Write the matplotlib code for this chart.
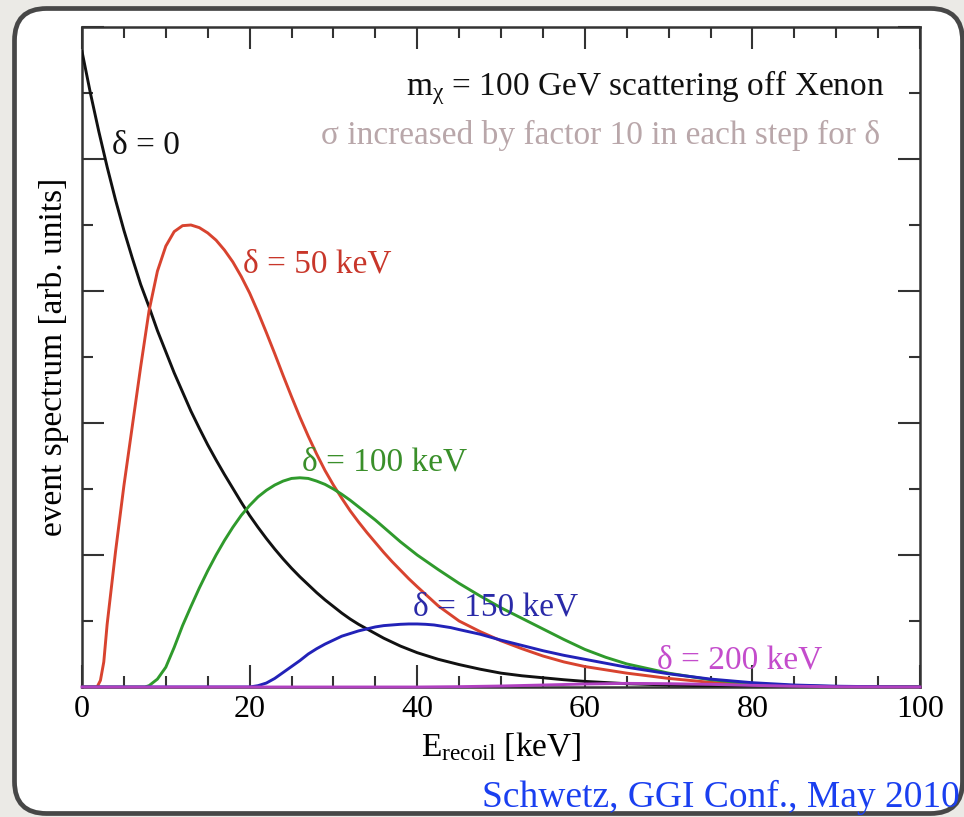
import matplotlib
matplotlib.use("Agg")
import matplotlib.pyplot as plt
from matplotlib.patches import FancyBboxPatch
from matplotlib.ticker import MultipleLocator

plt.rcParams['font.family'] = ['Liberation Serif', 'DejaVu Serif']
plt.rcParams['mathtext.fontset'] = 'custom'
plt.rcParams['mathtext.rm'] = 'Liberation Serif'
plt.rcParams['mathtext.it'] = 'Liberation Serif:italic'

# ---- data ----
x_black = [0, 1, 2, 3, 4, 5, 6, 7, 8, 9, 10, 11, 12, 13, 14, 15, 16, 17, 18, 19, 20,
           21, 22, 23, 24, 25, 26, 27, 28, 29, 30, 31, 32, 33, 34, 35, 36, 37, 38, 39, 40,
           42.5, 45, 47.5, 50, 52.5, 55, 57.5, 60, 65, 70, 75, 80, 85, 90, 100]
y_black = [9.63, 9.00, 8.42, 7.88, 7.38, 6.92, 6.50, 6.10, 5.76, 5.40, 5.08, 4.76, 4.47,
           4.18, 3.92, 3.67, 3.44, 3.22, 3.01, 2.80, 2.60, 2.42, 2.25, 2.09, 1.94, 1.80,
           1.67, 1.55, 1.43, 1.32, 1.22, 1.12, 1.03, 0.95, 0.88, 0.81, 0.74, 0.68, 0.62,
           0.57, 0.52, 0.42, 0.34, 0.27, 0.21, 0.17, 0.14, 0.11, 0.085, 0.05, 0.03, 0.017,
           0.009, 0.004, 0.002, 0.0]

x_red = [0, 1.8, 2.2, 2.6, 3.0, 3.5, 4, 5, 6, 7, 8, 9, 10, 11, 12, 13, 14, 15, 16, 17,
         18, 19, 20, 21, 22, 23, 24, 25, 26, 27, 28, 29, 30, 31, 32, 33, 34, 35, 36, 37,
         38, 39, 40, 42.5, 45, 47.5, 50, 52.5, 55, 57.5, 60, 65, 70, 75, 80, 85, 90, 100]
y_red = [0, 0, 0.1, 0.38, 0.95, 1.5, 2.05, 3.05, 3.95, 4.85, 5.7, 6.3, 6.68, 6.9, 6.99,
         7.0, 6.96, 6.88, 6.77, 6.62, 6.44, 6.22, 5.97, 5.68, 5.37, 5.05, 4.72, 4.40,
         4.09, 3.80, 3.53, 3.28, 3.06, 2.86, 2.67, 2.50, 2.34, 2.19, 2.04, 1.90, 1.77,
         1.64, 1.52, 1.23, 1.0, 0.84, 0.70, 0.58, 0.47, 0.38, 0.31, 0.21, 0.13, 0.07,
         0.035, 0.014, 0.005, 0]

x_green = [0, 7.5, 8, 9, 10, 11, 12, 13, 14, 15, 16, 17, 18, 19, 20, 21, 22, 23, 24, 25,
           26, 27, 28, 29, 30, 31, 32, 33, 34, 35, 36, 37, 38, 39, 40, 42.5, 45, 47.5, 50,
           52.5, 55, 57.5, 60, 62.5, 65, 70, 75, 80, 85, 90, 100]
y_green = [0, 0, 0.02, 0.12, 0.3, 0.6, 0.93, 1.22, 1.5, 1.76, 2.0, 2.22, 2.42, 2.6, 2.75,
           2.88, 2.98, 3.06, 3.12, 3.16, 3.17, 3.16, 3.12, 3.07, 3.0, 2.92, 2.83, 2.73,
           2.63, 2.53, 2.42, 2.31, 2.2, 2.1, 2.0, 1.78, 1.57, 1.38, 1.2, 1.04, 0.88, 0.72,
           0.57, 0.45, 0.35, 0.21, 0.11, 0.05, 0.02, 0.006, 0]

x_blue = [0, 20, 21, 22, 23, 24, 25, 26, 27, 28, 29, 30, 31, 32, 33, 34, 35, 36, 37, 38,
          39, 40, 41, 42, 43, 44, 45, 47.5, 50, 52.5, 55, 57.5, 60, 62.5, 65, 67.5, 70,
          75, 80, 85, 90, 95, 100]
y_blue = [0, 0, 0.02, 0.06, 0.13, 0.22, 0.31, 0.4, 0.5, 0.58, 0.65, 0.71, 0.77, 0.81,
          0.85, 0.88, 0.91, 0.93, 0.94, 0.95, 0.955, 0.955, 0.95, 0.94, 0.92, 0.9, 0.87,
          0.8, 0.71, 0.63, 0.55, 0.48, 0.42, 0.36, 0.3, 0.25, 0.2, 0.12, 0.065, 0.03,
          0.012, 0.004, 0]

x_mag = [0, 40, 45, 50, 55, 60, 65, 70, 75, 80, 85, 90, 100]
y_mag = [0, 0, 0.005, 0.015, 0.03, 0.045, 0.055, 0.05, 0.04, 0.025, 0.012, 0.004, 0]

x_major_ticks = [0, 20, 40, 60, 80, 100]
x_tick_labels = ['0', '20', '40', '60', '80', '100']

# ---- figure ----
fig = plt.figure(figsize=(9.64, 8.17), dpi=100)
fig.patch.set_facecolor('#ebeae6')

frame = FancyBboxPatch((0.145, 0.035), 9.48, 8.05,
                       boxstyle="round,pad=0,rounding_size=0.32",
                       transform=fig.dpi_scale_trans, facecolor='white',
                       edgecolor='#474747', linewidth=3.4, zorder=-10)
fig.add_artist(frame)

ax = fig.add_axes([82 / 964, 130 / 817, 838 / 964, 660 / 817])
ax.set_facecolor('white')
ax.set_xlim(0, 100)
ax.set_ylim(0, 10)

lw = 2.1
ax.plot(x_black, y_black, color='#111111', lw=lw, zorder=3)
ax.plot(x_red, y_red, color='#d8432f', lw=lw, zorder=3)
ax.plot(x_green, y_green, color='#2f9a2c', lw=lw, zorder=3)
ax.plot(x_blue, y_blue, color='#2222b8', lw=lw, zorder=3)
ax.plot(x_mag, y_mag, color='#b040c0', lw=lw, zorder=4, clip_on=False)

ax.set_xticks(x_major_ticks)
ax.set_xticklabels(x_tick_labels)
ax.xaxis.set_minor_locator(MultipleLocator(5))
ax.yaxis.set_major_locator(MultipleLocator(2))
ax.yaxis.set_minor_locator(MultipleLocator(1))
ax.tick_params(which='both', direction='in', top=True, right=True, color='#333333',
               width=1.5)
ax.tick_params(which='major', length=16)
ax.tick_params(which='minor', length=8)
ax.tick_params(axis='x', labelsize=23, pad=6)
ax.tick_params(axis='y', labelleft=False)
for s in ax.spines.values():
    s.set_linewidth(1.8)
    s.set_color('#333333')

ax.set_xlabel(r'E$_{\mathrm{recoil}}$ [keV]', fontsize=24, labelpad=4)
ax.set_ylabel('event spectrum [arb. units]', fontsize=24, labelpad=6)

ax.text(95.8, 9.08, r'm$_{\mathrm{χ}}$ = 100 GeV scattering off Xenon', fontsize=24,
        ha='right', va='center', color='#111111')
ax.text(95.2, 8.36, 'σ increased by factor 10 in each step for δ', fontsize=24,
        ha='right', va='center', color='#b9a7aa')

ax.text(3.6, 8.2, 'δ = 0', fontsize=24, ha='left', va='center', color='#111111')
ax.text(19.2, 6.4, 'δ = 50 keV', fontsize=24, ha='left', va='center', color='#c8362a')
ax.text(26.3, 3.41, 'δ = 100 keV', fontsize=24, ha='left', va='center', color='#3a8f2a')
ax.text(39.5, 1.21, 'δ = 150 keV', fontsize=24, ha='left', va='center', color='#2a2aa8')
ax.text(68.6, 0.41, 'δ = 200 keV', fontsize=24, ha='left', va='center', color='#c44ccc')

fig.text(960 / 964, (817 - 797) / 817, 'Schwetz, GGI Conf., May 2010', fontsize=27,
         ha='right', va='center', color='#1a3ff0')

fig.savefig('out.png', dpi=100)
